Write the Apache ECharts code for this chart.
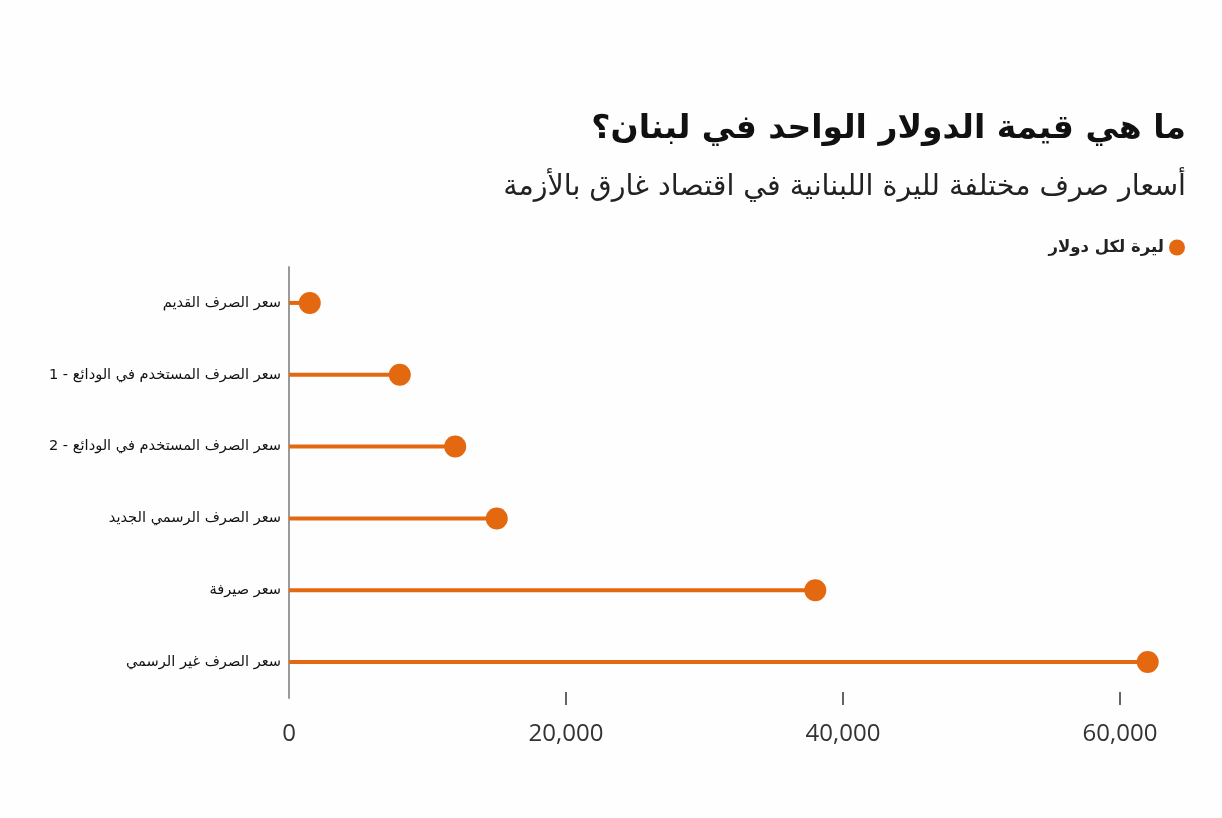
<!DOCTYPE html>
<html>
<head>
<meta charset="utf-8">
<script src="https://cdn.jsdelivr.net/npm/echarts@6/dist/echarts.min.js"></script>
<style>
  html, body { margin: 0; padding: 0; background: #fdfefd; }
  #main { width: 1222px; height: 818px; }
</style>
</head>
<body>
<div id="main" dir="rtl"></div>
<script>
// categories top to bottom
var rates = [
  'سعر الصرف القديم',
  'سعر الصرف المستخدم في الودائع - 1',
  'سعر الصرف المستخدم في الودائع - 2',
  'سعر الصرف الرسمي الجديد',
  'سعر صيرفة',
  'سعر الصرف غير الرسمي'
];
var lbpPerDollar = [1500, 8000, 12000, 15000, 38000, 62000];
var xTicks = [0, 20000, 40000, 60000];

var orange = '#e4680f';
var arabicFont = '"DejaVu Sans", "Noto Sans", sans-serif';

var myChart = echarts.init(document.getElementById('main'));

var option = {
  backgroundColor: '#fdfefd',
  title: [{
    text: 'ما هي قيمة الدولار الواحد في لبنان؟',
    right: 31,
    top: 108,
    textStyle: { fontFamily: arabicFont, fontSize: 33, fontWeight: 'bold', color: '#111' }
  }, {
    text: 'أسعار صرف مختلفة لليرة اللبنانية في اقتصاد غارق بالأزمة',
    right: 31,
    top: 168,
    textStyle: { fontFamily: arabicFont, fontSize: 28.5, fontWeight: 'normal', color: '#222' }
  }],
  legend: {
    data: ['ليرة لكل دولار'],
    right: 32,
    top: 234,
    align: 'right',
    icon: 'circle',
    itemWidth: 16,
    itemHeight: 16,
    itemGap: 6,
    textStyle: { fontFamily: arabicFont, fontSize: 16.5, fontWeight: 'bold', color: '#222' }
  },
  grid: {
    left: 289,
    top: 267,
    width: 858.7,
    height: 431
  },
  xAxis: {
    type: 'value',
    min: 0,
    max: 62000,
    interval: 20000,
    offset: -6,
    splitLine: { show: false },
    axisLine: { show: false },
    axisTick: {
      show: true,
      length: 13,
      customValues: [20000, 40000, 60000],
      lineStyle: { color: '#333', width: 1.5 }
    },
    axisLabel: {
      customValues: xTicks,
      margin: 30,
      fontFamily: '"Open Sans", sans-serif',
      fontSize: 24,
      color: '#333',
      formatter: function (v) { return v.toLocaleString('en-US'); }
    }
  },
  yAxis: {
    type: 'category',
    inverse: true,
    data: rates,
    axisLine: { show: true, lineStyle: { color: '#9a9a9a', width: 2 } },
    axisTick: { show: false },
    axisLabel: {
      margin: 8,
      fontFamily: arabicFont,
      fontSize: 14.6,
      fontWeight: 'normal',
      color: '#111'
    }
  },
  series: [{
    name: 'ليرة لكل دولار',
    type: 'bar',
    barWidth: 4,
    itemStyle: { color: orange },
    data: lbpPerDollar,
    silent: true
  }, {
    name: 'ليرة لكل دولار',
    type: 'scatter',
    symbol: 'circle',
    symbolSize: 22,
    itemStyle: { color: orange, opacity: 1 },
    data: lbpPerDollar,
    z: 3
  }]
};
myChart.setOption(option);
</script>
</body>
</html>
